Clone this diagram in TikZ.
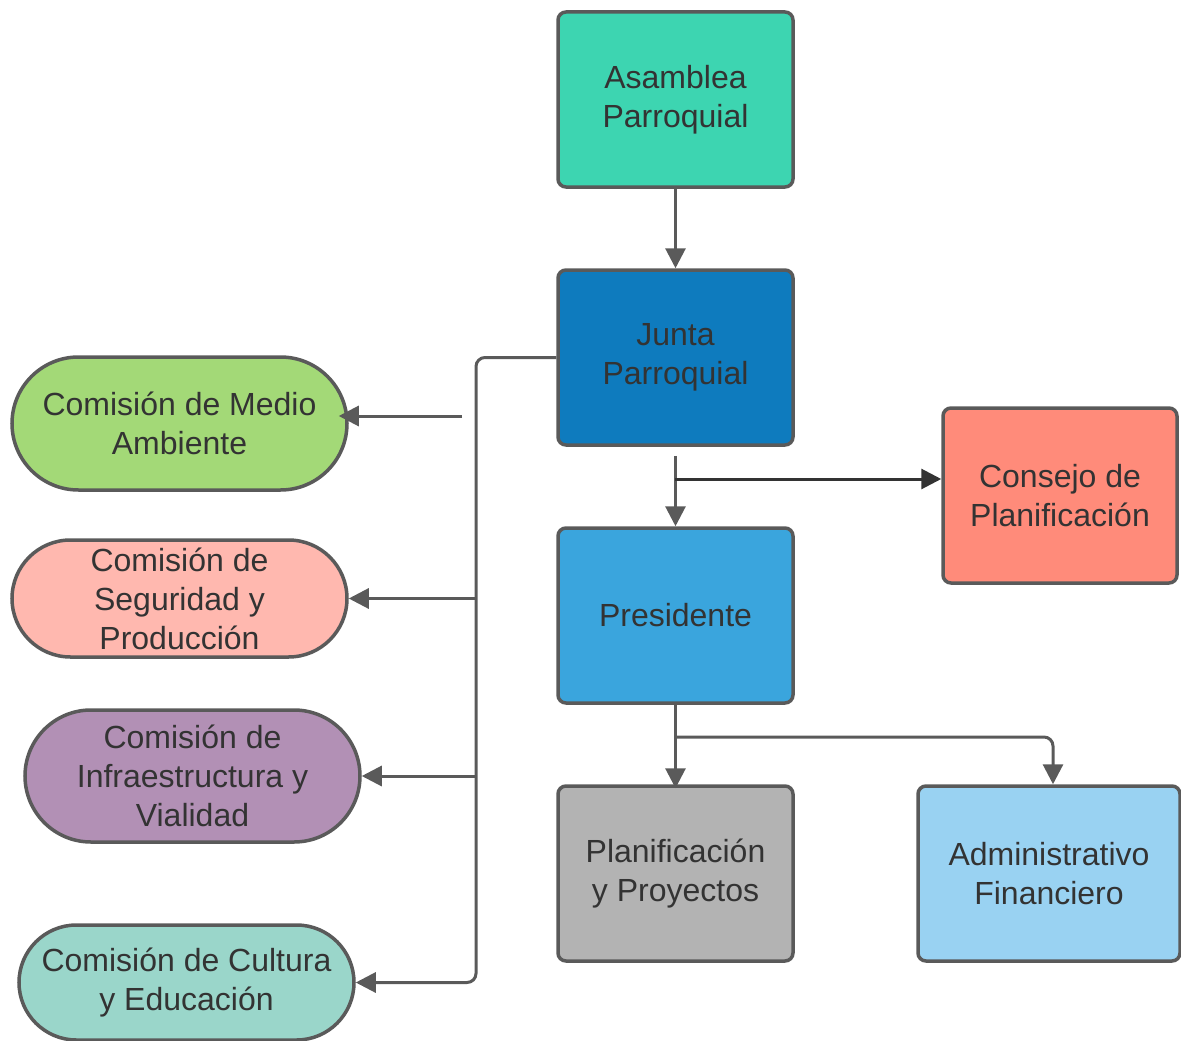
\documentclass[tikz,border=0pt]{standalone}
\usepackage{fontspec}
\setmainfont{Liberation Sans}
\usepackage{xcolor}
\usepackage{tikz}
\usetikzlibrary{arrows.meta,positioning,calc}
\definecolor{asambleaC}{HTML}{3DD5B1}
\definecolor{juntaC}{HTML}{0E7BBE}
\definecolor{presiC}{HTML}{3AA5DD}
\definecolor{consejoC}{HTML}{FF8B7A}
\definecolor{planC}{HTML}{B3B3B3}
\definecolor{adminC}{HTML}{99D2F2}
\definecolor{medioC}{HTML}{A3D977}
\definecolor{seguC}{HTML}{FFB8AF}
\definecolor{infraC}{HTML}{B290B5}
\definecolor{culturaC}{HTML}{9AD6CA}
\definecolor{borderC}{HTML}{5A5A5A}
\definecolor{textC}{HTML}{333333}

\begin{document}
\begin{tikzpicture}[
    x=1pt, y=1pt,
    node distance=79.5pt and 121.5pt,
    box/.style={rectangle, draw=borderC, line width=3.5pt, rounded corners=8pt, minimum width=235pt, minimum height=175pt, align=center, text=textC, font=\fontsize{32}{39}\selectfont, inner sep=0pt},
    comision/.style={rectangle, draw=borderC, line width=3.5pt, minimum width=335pt, align=center, text=textC, font=\fontsize{32}{39}\selectfont, inner sep=0pt},
    line/.style={draw=borderC, line width=3pt, -{Triangle[length=20pt,width=20pt]}},
    darkline/.style={line, draw=textC}
]
\useasboundingbox (0,0) rectangle (1181,-1041);

% Nodes
\node[box, fill=asambleaC] (asamblea) at (675.5,-99.5) {Asamblea\\Parroquial};
\node[box, fill=juntaC, below=of asamblea] (junta) {Junta\\Parroquial};
\node[box, fill=presiC, below=of junta] (presidente) {Presidente};
\node[box, fill=planC, below=of presidente] (planif) {Planificación\\y Proyectos};
\node[box, fill=adminC, minimum width=262pt, right=of planif] (admin) {Administrativo\\Financiero};
\node[box, fill=consejoC, minimum width=234pt] (consejo) at (1060,-495.5) {Consejo de\\Planificación};

\node[comision, fill=medioC, minimum height=133pt, rounded corners=66.5pt] (medio) at (179.5,-423.5) {Comisión de Medio\\Ambiente};
\node[comision, fill=seguC, minimum height=117pt, rounded corners=58.5pt] (seguridad) at (179.5,-598.5) {Comisión de\\Seguridad y\\Producción};
\node[comision, fill=infraC, minimum height=132pt, rounded corners=66pt] (infra) at (192.5,-776) {Comisión de\\Infraestructura y\\Vialidad};
\node[comision, fill=culturaC, minimum height=115pt, rounded corners=57.5pt] (cultura) at (186.5,-982.5) {Comisión de Cultura\\y Educación};

\coordinate (bus) at (476,0);
\coordinate (mediofree) at (462,-416);
\coordinate (consejofork) at (675,-479);
\coordinate (adminfork) at (675,-737);

% Connections
\path[line] (asamblea.south) -- (junta.north);
\path[line, rounded corners=9pt] (junta.west) -| (bus |- cultura.east) -- (cultura.east);
\path[line] (bus |- seguridad.east) -- (seguridad.east);
\path[line] (bus |- infra.east) -- (infra.east);
\path[line] (mediofree) -- ([xshift=-10pt]medio.east |- mediofree);

\path[line] ([yshift=-9pt]junta.south) -- (presidente.north);
\path[darkline] (consejofork) -- (consejofork -| consejo.west);

\path[line] (presidente.south) -- ([yshift=-4pt]planif.north);
\path[line, rounded corners=9pt] (adminfork) -| ([xshift=4pt]admin.north);

\end{tikzpicture}
\end{document}
